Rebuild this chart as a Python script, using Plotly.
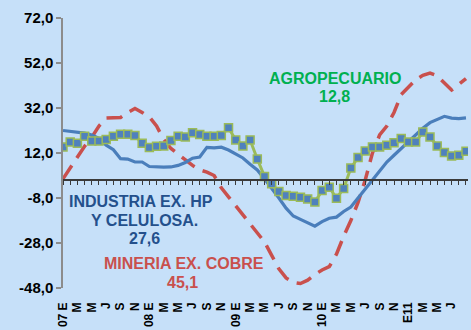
import plotly.graph_objects as go

# Monthly index values, Jan 2007 - Sep 2011 (12-month % change)
month_letters = ["E", "F", "M", "A", "M", "J", "J", "A", "S", "O", "N", "D"]
years = [2007, 2008, 2009, 2010, 2011]
n_months = 57

industria = [22, 21.7, 21.2, 20.8, 20, 18.5, 15.5, 13.5, 9.5, 9.3, 8, 8,
             6, 5.7, 5.7, 5.8, 6.5, 7.8, 9.7, 10.2, 14.5, 14.3, 14.6, 13.3,
             11.5, 9.8, 7, 4.5, 0.5, -3.5, -8, -12.5, -16, -17.5, -19, -20.5,
             -18.5, -17, -16.5, -14, -12, -8, -4, 0, 4, 8, 11, 14,
             17, 20, 23, 25.5, 27, 28.3, 27.5, 27.3, 27.6]

agropecuario = [14.7, 16.9, 16.3, 19.4, 17.3, 17.3, 18, 19.4, 20.3, 20.3, 19.8, 16.3,
                14.5, 15, 15.1, 17.6, 19.5, 19.1, 21, 20.2, 19.5, 19.5, 19.8, 23.2,
                17.8, 15.1, 17.8, 9.3, 1.6, -1.7, -5.1, -6.9, -7.2, -7.7, -8.4, -9.8,
                -4.7, -3.2, -8.1, -3.8, 5.3, 10, 12.9, 14.7, 14.7, 15.4, 16.6, 18.5,
                16.9, 16.9, 21.3, 19.1, 15.1, 12.2, 10.7, 11, 12.8]

mineria = [0.5, 5.5, 10, 15, 19, 24, 27.5, 27.5, 27.8, 30, 31.8, 30,
           28, 24, 18, 14, 11.5, 9, 6.5, 4.5, 3.5, 2, -3.5, -7.5,
           -11.5, -15.5, -20, -23.5, -27.5, -33.5, -39.5, -43.5, -45.5, -46, -44.5, -42,
           -40, -38.5, -33, -25, -18, -10, 0, 12, 20, 24, 30, 38,
           41.5, 44.5, 46.5, 47.5, 46.3, 43, 40, 42.5, 45.1]

y_tick_vals = [72, 52, 32, 12, -8, -28, -48]
y_tick_text = ["72,0", "52,0", "32,0", "12,0", "-8,0", "-28,0", "-48,0"]

x = list(range(n_months))

# Bimonthly category labels; January carries the year
x_tick_vals = []
x_tick_text = []
for i in range(0, n_months, 2):
    m = i % 12
    y = years[i // 12]
    if m == 0:
        label = "E11" if y == 2011 else f"{str(y)[2:]} E"
    else:
        label = month_letters[m]
    x_tick_vals.append(i)
    x_tick_text.append(label)

BG = "#C6E0F9"
FONT = "Liberation Sans, Arial, sans-serif"

fig = go.Figure()

fig.add_trace(go.Scatter(
    x=x, y=mineria, mode="lines",
    line=dict(color="#C9504D", width=3.5, dash="16px,9px"),
    hoverinfo="skip", showlegend=False))

fig.add_trace(go.Scatter(
    x=x, y=industria, mode="lines",
    line=dict(color="#4A7EBB", width=3.2),
    hoverinfo="skip", showlegend=False))

fig.add_trace(go.Scatter(
    x=x, y=agropecuario, mode="lines+markers",
    line=dict(color="#9BBB59", width=3),
    marker=dict(symbol="square", size=8, color="#4F81BD",
                line=dict(color="#9BBB59", width=1.5)),
    hoverinfo="skip", showlegend=False))

# Empty trace that carries the zero-crossing category axis
fig.add_trace(go.Scatter(x=[], y=[], xaxis="x2", yaxis="y",
                         hoverinfo="skip", showlegend=False))

x_range = [0, 56.28]

fig.update_layout(
    width=471, height=330,
    margin=dict(l=63, r=3, t=18, b=40),
    paper_bgcolor=BG, plot_bgcolor=BG,
    font=dict(family=FONT, color="black"),
    xaxis=dict(
        range=x_range, showgrid=False, zeroline=False, showline=False,
        ticks="", tickmode="array", tickvals=x_tick_vals, ticktext=x_tick_text,
        tickangle=-90, tickfont=dict(family=FONT, size=12, color="black", weight="bold"),
        ticklabelstandoff=11,
    ),
    xaxis2=dict(
        range=x_range, overlaying="x", anchor="free", position=48 / 120,
        showgrid=False, zeroline=False, showline=True, linecolor="#3A3A3A", linewidth=1.5,
        ticks="outside", ticklen=4, tickwidth=1, tickcolor="#3A3A3A",
        tickmode="linear", tick0=0, dtick=1, showticklabels=False,
    ),
    yaxis=dict(
        range=[-48, 72], showgrid=False, zeroline=False,
        showline=True, linecolor="#8C8C8C", linewidth=1.5,
        ticks="outside", ticklen=5, tickcolor="#8C8C8C", tickwidth=1.5,
        tickmode="array", tickvals=y_tick_vals, ticktext=y_tick_text,
        tickfont=dict(family=FONT, size=15, color="black", weight="bold"),
    ),
)

def px_x(px):
    return (px - 63) / 405

def px_y(py):
    return (290 - py) / 272

labels = [
    ("AGROPECUARIO", 334.5, 79, "#00B050"),
    ("12,8", 334.5, 97.5, "#00B050"),
    ("INDUSTRIA EX. HP", 141, 203, "#24508C"),
    ("Y CELULOSA.", 144, 222, "#24508C"),
    ("27,6", 144, 240, "#24508C"),
    ("MINERIA EX. COBRE", 183.5, 265, "#C9504D"),
    ("45,1", 182.5, 284, "#C9504D"),
]
for text, lx, ly, col in labels:
    fig.add_annotation(
        text=text, xref="paper", yref="paper", x=px_x(lx), y=px_y(ly),
        xanchor="center", yanchor="middle", showarrow=False,
        font=dict(family=FONT, size=16, color=col, weight="bold"))

fig.write_html("out.html")
